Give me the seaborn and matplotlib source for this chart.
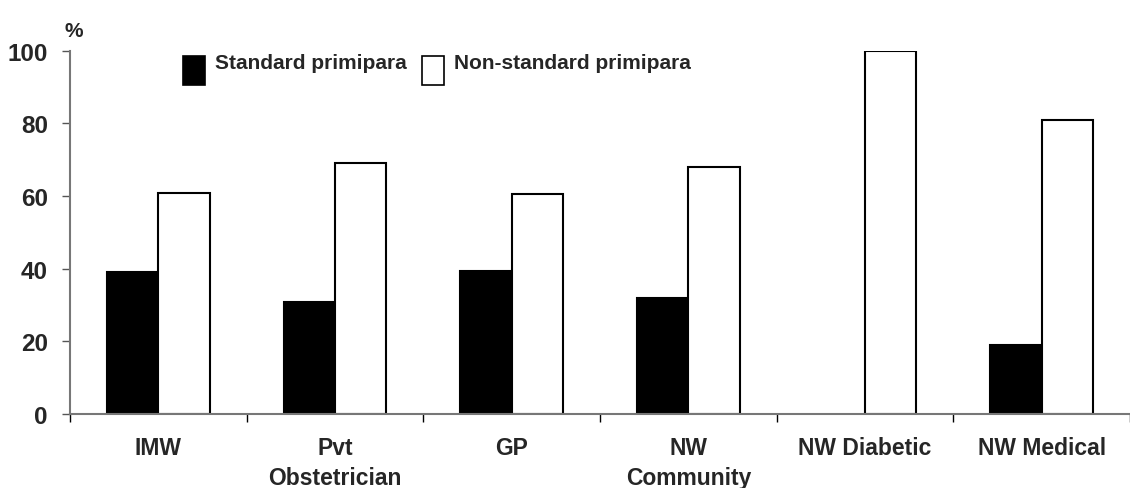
import matplotlib
matplotlib.use("Agg")
import matplotlib.pyplot as plt
from matplotlib.patches import Rectangle
from matplotlib.legend_handler import HandlerPatch
import seaborn as sns
import pandas as pd

categories = ["IMW", "Pvt\nObstetrician", "GP", "NW\nCommunity", "NW Diabetic", "NW Medical"]
series_names = ["Standard primipara", "Non-standard primipara"]
standard = [39, 31, 39.5, 32, 0, 19]
non_standard = [61, 69, 60.5, 68, 100, 81]
y_ticks = [0, 20, 40, 60, 80, 100]

rows = []
for c, v in zip(categories, standard):
    rows.append({"cat": c, "series": series_names[0], "val": v})
for c, v in zip(categories, non_standard):
    rows.append({"cat": c, "series": series_names[1], "val": v})
df = pd.DataFrame(rows)

sns.set_theme(style="white")
plt.rcParams['font.family'] = ['Liberation Sans', 'DejaVu Sans']
plt.rcParams['font.weight'] = 'bold'

fig = plt.figure(figsize=(11.3, 4.89), dpi=100)
ax = fig.add_axes([0.062, 0.151, 0.938, 0.743])

sns.barplot(data=df, x="cat", y="val", hue="series", order=categories,
            hue_order=series_names, palette=["black", "white"],
            edgecolor="black", linewidth=1.5, width=0.58, ax=ax,
            errorbar=None, legend=True)
for p in ax.patches:
    if p.get_height() == 0:
        p.set_linewidth(0)

ax.set_ylim(0, 100)
ax.set_xlim(-0.5, 5.465)
ax.set_yticks(y_ticks)
ax.set_yticklabels([str(t) for t in y_ticks], fontsize=17.5, fontweight='bold')
ax.set_xticks(range(len(categories)))
ax.set_xticklabels(categories, fontsize=16.5, fontweight='bold', linespacing=1.35)
ax.set_xticks([i - 0.5 for i in range(len(categories) + 1)], minor=True)
ax.tick_params(axis='x', which='major', length=0, pad=16)
ax.tick_params(axis='x', which='minor', length=6, width=1, color='black', direction='out', bottom=True)
ax.tick_params(axis='y', length=6, width=1, color='#555555', direction='out', left=True, pad=10)
ax.set_xlabel("")
ax.set_ylabel("")
for s in ["top", "right"]:
    ax.spines[s].set_visible(False)
ax.spines["left"].set_color("#777777")
ax.spines["bottom"].set_color("#777777")
ax.spines["left"].set_linewidth(1.5)
ax.spines["bottom"].set_linewidth(1.5)

ax.text(-0.53, 103, "%", fontsize=15, fontweight='bold', ha='left', va='bottom')


def square(legend, orig_handle, xdescent, ydescent, width, height, fontsize):
    return Rectangle((-xdescent, -0.81 * fontsize), 1.06 * fontsize, 1.39 * fontsize)


handles, labels = ax.get_legend_handles_labels()
if ax.get_legend() is not None:
    ax.get_legend().remove()
leg = ax.legend(handles, labels, loc="lower left", bbox_to_anchor=(0.1066, 0.941), ncol=2,
                frameon=False, fontsize=15, handlelength=1.06, handleheight=0.7,
                columnspacing=0.75, handletextpad=0.47, borderpad=0, borderaxespad=0,
                handler_map={Rectangle: HandlerPatch(patch_func=square)})
for t in leg.get_texts():
    t.set_fontweight('bold')
for h in leg.legend_handles:
    h.set_edgecolor('black')
    h.set_linewidth(1.2)

fig.savefig("out.png", dpi=100)
